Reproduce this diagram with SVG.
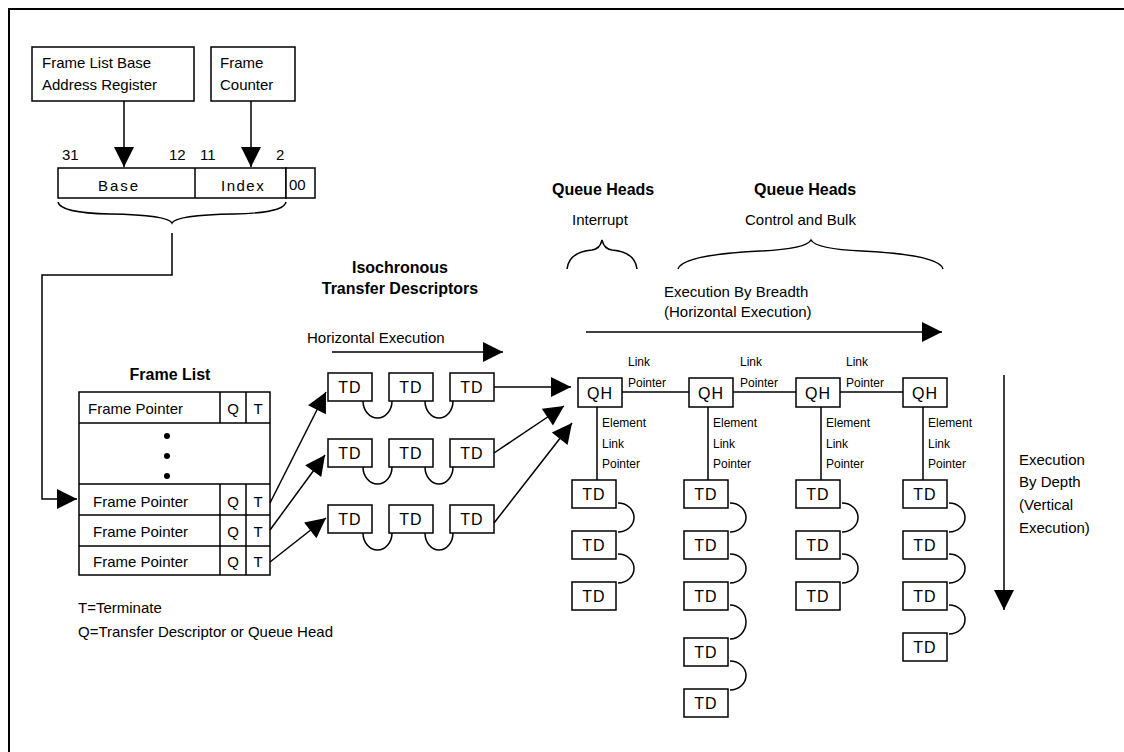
<svg xmlns="http://www.w3.org/2000/svg" width="1124" height="752" viewBox="0 0 1124 752">
<style>
text{font-family:"Liberation Sans",Arial,sans-serif;font-size:15px;fill:#000}
.b{font-weight:bold;font-size:16px}
.s{font-size:12px}
.td{font-size:16px;text-anchor:middle;letter-spacing:1px}
.m{text-anchor:middle}
.bx{fill:#fff;stroke:#000;stroke-width:1.5}
.ln{fill:none;stroke:#000;stroke-width:1.5}
</style>
<defs>
<marker id="ah" viewBox="0 0 10 10" refX="10" refY="5" markerWidth="22" markerHeight="20" markerUnits="userSpaceOnUse" orient="auto"><path d="M0,0 L10,5 L0,10 z" fill="#000"/></marker>
<marker id="ahl" viewBox="0 0 10 10" refX="10" refY="5" markerWidth="25" markerHeight="20" markerUnits="userSpaceOnUse" orient="auto"><path d="M0,0 L10,5 L0,10 z" fill="#000"/></marker>
</defs>
<rect x="0" y="0" width="1124" height="752" fill="#fff"/>
<path d="M9,752 V9 H1124" fill="none" stroke="#000" stroke-width="2"/>

<g id="flbar">
<rect class="bx" x="32" y="47" width="162" height="54"/>
<text x="42" y="68">Frame List Base</text>
<text x="42" y="90">Address Register</text>
</g>
<g id="fcounter">
<rect class="bx" x="211" y="47" width="84" height="54"/>
<text x="220" y="68">Frame</text>
<text x="220" y="90">Counter</text>
</g>
<g id="register">
<text x="62" y="160">31</text>
<text x="169" y="160">12</text>
<text x="200" y="160">11</text>
<text x="276" y="160">2</text>
<rect class="bx" x="58" y="168" width="228" height="30"/>
<line class="ln" x1="195" y1="168" x2="195" y2="198"/>
<rect class="bx" x="286" y="168" width="29" height="30"/>
<text x="98" y="191" style="letter-spacing:2px">Base</text>
<text x="221" y="191" style="letter-spacing:1.5px">Index</text>
<text x="289" y="190">00</text>
<path class="ln" d="M58,202 Q60,213 110,214 Q168,215 172,223 Q176,215 234,214 Q284,213 286,202"/>
</g>

<g id="framelist">
<text class="b m" x="170" y="380">Frame List</text>
<rect class="bx" x="79" y="392" width="191" height="183"/>
<path class="ln" d="M79,423 H270 M79,484 H270 M79,515 H270 M79,546 H270 M220,392 V423 M246,392 V423 M220,484 V575 M246,484 V575"/>
<text x="88" y="414">Frame Pointer</text>
<text x="93" y="507">Frame Pointer</text>
<text x="93" y="537">Frame Pointer</text>
<text x="93" y="567">Frame Pointer</text>
<text class="m" x="233" y="414">Q</text><text class="m" x="258" y="414">T</text>
<text class="m" x="233" y="507">Q</text><text class="m" x="258" y="507">T</text>
<text class="m" x="233" y="537">Q</text><text class="m" x="258" y="537">T</text>
<text class="m" x="233" y="567">Q</text><text class="m" x="258" y="567">T</text>
<circle cx="167" cy="436" r="3"/><circle cx="167" cy="456" r="3"/><circle cx="167" cy="476" r="3"/>
<text x="78" y="613">T=Terminate</text>
<text x="78" y="637">Q=Transfer Descriptor or Queue Head</text>
</g>

<g id="iso">
<text class="b m" x="400" y="273">Isochronous</text>
<text class="b m" x="400" y="294">Transfer Descriptors</text>
<text x="307" y="343">Horizontal Execution</text>
<rect class="bx" x="328" y="373" width="44" height="28"/><text class="td" x="350" y="393">TD</text>
<rect class="bx" x="389" y="373" width="44" height="28"/><text class="td" x="411" y="393">TD</text>
<rect class="bx" x="450" y="373" width="44" height="28"/><text class="td" x="472" y="393">TD</text>
<rect class="bx" x="328" y="439" width="44" height="28"/><text class="td" x="350" y="459">TD</text>
<rect class="bx" x="389" y="439" width="44" height="28"/><text class="td" x="411" y="459">TD</text>
<rect class="bx" x="450" y="439" width="44" height="28"/><text class="td" x="472" y="459">TD</text>
<rect class="bx" x="328" y="505" width="44" height="28"/><text class="td" x="350" y="525">TD</text>
<rect class="bx" x="389" y="505" width="44" height="28"/><text class="td" x="411" y="525">TD</text>
<rect class="bx" x="450" y="505" width="44" height="28"/><text class="td" x="472" y="525">TD</text>
<path class="ln" d="M363,401 A14.5,17 0 0 0 392,401 M425,401 A14,17 0 0 0 453,401 M363,467 A14.5,17 0 0 0 392,467 M425,467 A14,17 0 0 0 453,467 M363,533 A14.5,17 0 0 0 392,533 M425,533 A14,17 0 0 0 453,533"/>
</g>

<g id="qhlabels">
<text class="b" x="552" y="195">Queue Heads</text>
<text class="b" x="754" y="195">Queue Heads</text>
<text x="572" y="225">Interrupt</text>
<text x="745" y="225">Control and Bulk</text>
<path class="ln" d="M567,269 Q569,252 592,250 Q600,249 602,240 Q604,249 612,250 Q635,252 637,269"/>
<path class="ln" d="M678,269 Q682,255 760,251 Q806,249 811,240 Q816,249 862,251 Q940,255 943,269"/>
<text x="664" y="297">Execution By Breadth</text>
<text x="664" y="317">(Horizontal Execution)</text>
<text x="1019" y="465">Execution</text>
<text x="1019" y="487">By Depth</text>
<text x="1019" y="510">(Vertical</text>
<text x="1019" y="533">Execution)</text>
</g>

<g id="qh1">
<rect class="bx" x="578" y="378" width="44" height="29"/><text class="td" x="600" y="399">QH</text>
<text class="s" x="628" y="366">Link</text><text class="s" x="628" y="387">Pointer</text>
<text class="s" x="602" y="427">Element</text><text class="s" x="602" y="448">Link</text><text class="s" x="602" y="468">Pointer</text>
<rect class="bx" x="572" y="480" width="44" height="28"/><text class="td" x="594" y="500">TD</text>
<rect class="bx" x="572" y="531" width="44" height="28"/><text class="td" x="594" y="551">TD</text>
<rect class="bx" x="572" y="582" width="44" height="28"/><text class="td" x="594" y="602">TD</text>
</g>
<g id="qh2">
<rect class="bx" x="689" y="378" width="44" height="29"/><text class="td" x="711" y="399">QH</text>
<text class="s" x="740" y="366">Link</text><text class="s" x="740" y="387">Pointer</text>
<text class="s" x="713" y="427">Element</text><text class="s" x="713" y="448">Link</text><text class="s" x="713" y="468">Pointer</text>
<rect class="bx" x="684" y="480" width="44" height="28"/><text class="td" x="706" y="500">TD</text>
<rect class="bx" x="684" y="531" width="44" height="28"/><text class="td" x="706" y="551">TD</text>
<rect class="bx" x="684" y="582" width="44" height="28"/><text class="td" x="706" y="602">TD</text>
<rect class="bx" x="684" y="638" width="44" height="28"/><text class="td" x="706" y="658">TD</text>
<rect class="bx" x="684" y="689" width="44" height="28"/><text class="td" x="706" y="709">TD</text>
</g>
<g id="qh3">
<rect class="bx" x="796" y="378" width="44" height="29"/><text class="td" x="818" y="399">QH</text>
<text class="s" x="846" y="366">Link</text><text class="s" x="846" y="387">Pointer</text>
<text class="s" x="826" y="427">Element</text><text class="s" x="826" y="448">Link</text><text class="s" x="826" y="468">Pointer</text>
<rect class="bx" x="796" y="480" width="44" height="28"/><text class="td" x="818" y="500">TD</text>
<rect class="bx" x="796" y="531" width="44" height="28"/><text class="td" x="818" y="551">TD</text>
<rect class="bx" x="796" y="582" width="44" height="28"/><text class="td" x="818" y="602">TD</text>
</g>
<g id="qh4">
<rect class="bx" x="903" y="378" width="44" height="29"/><text class="td" x="925" y="399">QH</text>
<text class="s" x="928" y="427">Element</text><text class="s" x="928" y="448">Link</text><text class="s" x="928" y="468">Pointer</text>
<rect class="bx" x="903" y="480" width="44" height="28"/><text class="td" x="925" y="500">TD</text>
<rect class="bx" x="903" y="531" width="44" height="28"/><text class="td" x="925" y="551">TD</text>
<rect class="bx" x="903" y="582" width="44" height="28"/><text class="td" x="925" y="602">TD</text>
<rect class="bx" x="903" y="633" width="44" height="28"/><text class="td" x="925" y="653">TD</text>
</g>

<g id="connectors">
<line class="ln" x1="124" y1="101" x2="124" y2="167" marker-end="url(#ahl)"/>
<line class="ln" x1="251" y1="101" x2="251" y2="167" marker-end="url(#ahl)"/>
<path class="ln" d="M172,233 V275 H42 V499 H77" marker-end="url(#ah)"/>
<line class="ln" x1="270" y1="503" x2="326" y2="392" marker-end="url(#ah)"/>
<line class="ln" x1="270" y1="530" x2="325" y2="455" marker-end="url(#ah)"/>
<line class="ln" x1="270" y1="562" x2="326" y2="518" marker-end="url(#ah)"/>
<line class="ln" x1="332" y1="352" x2="503" y2="352" marker-end="url(#ah)"/>
<line class="ln" x1="494" y1="387" x2="571" y2="387" marker-end="url(#ah)"/>
<line class="ln" x1="494" y1="453" x2="564" y2="406" marker-end="url(#ah)"/>
<line class="ln" x1="494" y1="523" x2="572" y2="423" marker-end="url(#ah)"/>
<line class="ln" x1="586" y1="332" x2="942" y2="332" marker-end="url(#ah)"/>
<line class="ln" x1="1004" y1="375" x2="1004" y2="610" marker-end="url(#ah)"/>
<path class="ln" d="M622,392 H689 M733,392 H796 M840,392 H903"/>
<path class="ln" d="M597,407 V480 M708,407 V480 M821,407 V480 M923,407 V480"/>
<path class="ln" d="M618,503 A16,14.5 0 0 1 618,532 M618,554 A16,14.5 0 0 1 618,583"/>
<path class="ln" d="M730,503 A16,14.5 0 0 1 730,532 M730,554 A16,14.5 0 0 1 730,583 M730,605 A16,17 0 0 1 730,639 M730,661 A16,14.5 0 0 1 730,690"/>
<path class="ln" d="M842,503 A16,14.5 0 0 1 842,532 M842,554 A16,14.5 0 0 1 842,583"/>
<path class="ln" d="M949,503 A16,14.5 0 0 1 949,532 M949,554 A16,14.5 0 0 1 949,583 M949,605 A16,14.5 0 0 1 949,634"/>
</g>
</svg>
